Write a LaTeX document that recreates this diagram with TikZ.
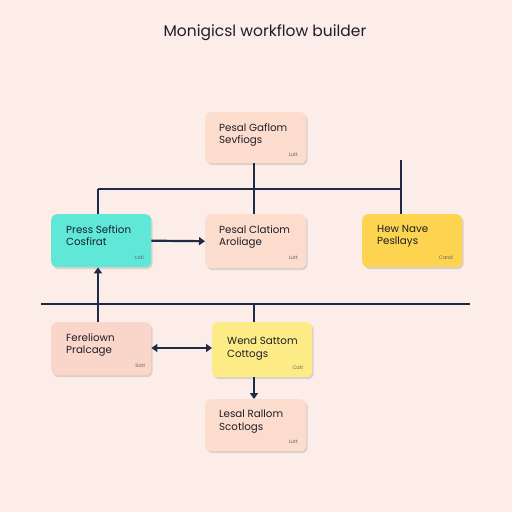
\documentclass[tikz,border=0pt]{standalone}
\usepackage{fontspec}
\setmainfont{Poppins}
\usetikzlibrary{arrows.meta,shadows}
\definecolor{bgc}{HTML}{FCEDE9}
\definecolor{linec}{HTML}{1F2A44}
\definecolor{peach}{HTML}{FBDCCD}
\definecolor{peachb}{HTML}{FAD6CA}
\definecolor{cyanb}{HTML}{5FE8D8}
\definecolor{yelb}{HTML}{FDD44F}
\definecolor{ltyel}{HTML}{FDEC86}
\definecolor{txtc}{HTML}{1E1E28}
\tikzset{
  card/.style={rounded corners=6pt, draw=none, inner sep=0pt, anchor=north west,
    drop shadow={shadow xshift=1.5pt, shadow yshift=-2pt, fill=black, opacity=0.12}},
  cardtext/.style={anchor=north west, align=left, font=\fontsize{10.3}{12.5}\selectfont, text=txtc, inner sep=0pt},
  tag/.style={anchor=south east, font=\fontsize{5}{6}\selectfont, text=txtc!70, inner sep=0pt},
  conn/.style={draw=linec, line width=2.2pt},
  arr/.style={conn, -{Triangle[length=6pt,width=8pt]}},
  darr/.style={conn, {Triangle[length=6pt,width=8pt]}-{Triangle[length=6pt,width=8pt]}}
}
\begin{document}
\begin{tikzpicture}[x=1pt,y=-1pt]
\fill[bgc] (0,0) rectangle (512,512);
\useasboundingbox (0,0) rectangle (512,512);
\node[font=\fontsize{15.5}{18}\selectfont, text=txtc] (title) at (265,33) {Monigicsl workflow builder};
% boxes
\node[card, fill=peach, minimum width=101pt, minimum height=51pt] (top) at (205,112) {};
\node[card, fill=cyanb, minimum width=100pt, minimum height=53pt] (cy) at (51,214) {};
\node[card, fill=peach, minimum width=101pt, minimum height=54pt] (mid) at (205,214) {};
\node[card, fill=yelb, minimum width=100pt, minimum height=53pt] (ye) at (362,214) {};
\node[card, fill=peachb, minimum width=100pt, minimum height=53pt] (bl) at (51,322) {};
\node[card, fill=ltyel, minimum width=100pt, minimum height=55pt] (ly) at (212,322) {};
\node[card, fill=peach, minimum width=101pt, minimum height=52pt] (bot) at (205,399) {};
% texts
\node[cardtext] (t1) at (219,123) {Pesal Gaflom\\Sevfiogs};
\node[tag] (g1) at (298,157) {Lutt};
\node[cardtext] (t2) at (66,225) {Press Seftion\\Cosfirat};
\node[tag] (g2) at (144,260) {Ltdl};
\node[cardtext] (t3) at (219,225) {Pesal Clatiom\\Aroliage};
\node[tag] (g3) at (298,260) {Lutt};
\node[cardtext] (t4) at (377,225) {Hew Nave\\Pesllays};
\node[tag] (g4) at (453,260) {Cand};
\node[cardtext] (t5) at (66,333) {Fereliown\\Pralcage};
\node[tag] (g5) at (145,368) {Satl};
\node[cardtext] (t6) at (227,337) {Wend Sattom\\Cottogs};
\node[tag] (g6) at (303,370) {Catl};
\node[cardtext] (t7) at (219,410) {Lesal Rallom\\Scotlogs};
\node[tag] (g7) at (298,444) {Lutt};
% connector coordinates
\coordinate (vx) at (254,0);
\coordinate (h1l) at (98,189);
\coordinate (h1r) at (401,189);
\coordinate (yetop) at (401,160);
\coordinate (h2l) at (41,304);
\coordinate (h2r) at (470,304);
\coordinate (h2c) at (254,304);
% connectors
\draw[conn] (vx |- top.south) -- (vx |- mid.north);
\draw[conn] (h1l) -- (h1r);
\draw[conn] (h1l) -- (h1l |- cy.north);
\draw[conn] (yetop) -- (yetop |- ye.north);
\draw[arr] (cy.east) -- (mid.west);
\draw[conn] (h2l) -- (h2r);
\draw[arr] (h1l |- bl.north) -- (h1l |- cy.south);
\draw[conn] (h2c) -- (h2c |- ly.north);
\draw[darr] (bl.east |- 0,348) -- (ly.west |- 0,348);
\draw[arr] (vx |- ly.south) -- (vx |- bot.north);
\end{tikzpicture}
\end{document}
